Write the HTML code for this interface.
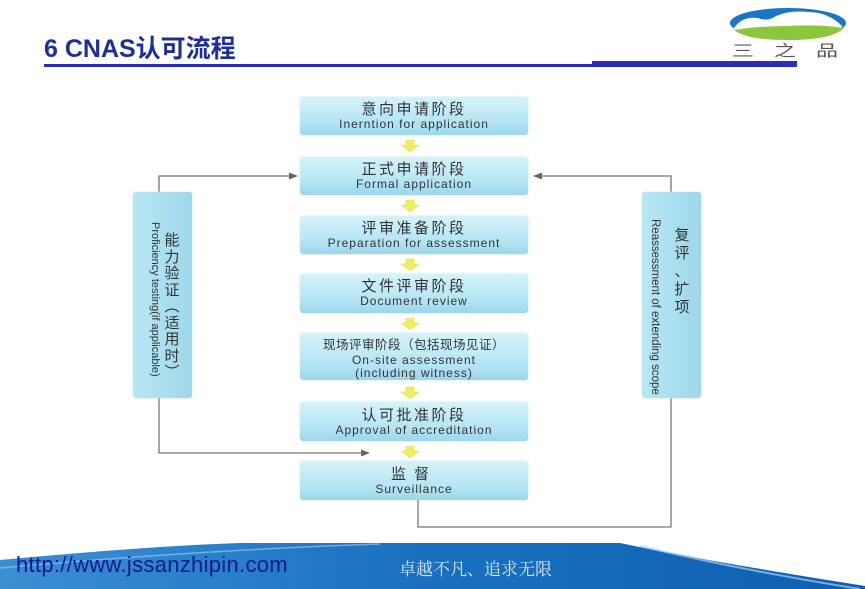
<!DOCTYPE html>
<html><head><meta charset="utf-8"><style>
body{margin:0;width:865px;height:589px;overflow:hidden;background:#fff;font-family:"Liberation Sans","Noto Sans CJK SC",sans-serif;position:relative}
.b{position:absolute;left:300px;width:228px;border-radius:3px;background:linear-gradient(#d6f3fb,#b2e4f3 70%,#9ad6ea);box-shadow:0 0 2px #bfe3ee;text-align:center;color:#333}
.b .c{font-size:15px;line-height:17px;letter-spacing:2.5px}
.b .e{font-size:12px;line-height:13px;letter-spacing:1px}
.s{position:absolute;width:59px;top:192px;height:206px;border-radius:3px;background:linear-gradient(90deg,#b8e7f4,#9ed8ea);box-shadow:0 0 2px #bfe3ee}
</style></head><body>
<div style="position:absolute;left:44px;top:29px;font-size:25px;font-weight:bold;color:#1c2f9a;font-family:'Liberation Sans','Noto Sans CJK SC',sans-serif">6 CNAS认可流程</div>
<div style="position:absolute;left:44px;top:64px;width:548px;height:3px;background:#2a2ec0"></div>
<div style="position:absolute;left:592px;top:61px;width:205px;height:6px;background:#2a2ec0"></div>
<svg style="position:absolute;left:728px;top:4px" width="125" height="56">
<ellipse cx="60" cy="19" rx="58" ry="15" fill="#1976c4"/>
<path d="M6,24 Q14,12 30,14 Q40,18 48,12 Q62,6 80,8 Q100,8 114,22 L114,30 L6,30Z" fill="#fff"/>
<path d="M6,26 Q30,22 60,22 Q90,20 116,24 Q104,36 60,36 Q18,36 6,26Z" fill="#8cc63f"/>
<g font-size="22" fill="#555" font-family="Noto Sans CJK SC,sans-serif" transform="translate(0,52) scale(1,0.7)">
<text x="4" y="0">三</text><text x="46" y="0">之</text><text x="88" y="0">品</text></g>
</svg>

<div class="b" style="top:97px;height:38px"><div class="c" style="margin-top:4px">意向申请阶段</div><div class="e">Inerntion for application</div></div>
<div class="b" style="top:157px;height:38px"><div class="c" style="margin-top:4px">正式申请阶段</div><div class="e">Formal application</div></div>
<div class="b" style="top:216px;height:38px"><div class="c" style="margin-top:4px">评审准备阶段</div><div class="e">Preparation for assessment</div></div>
<div class="b" style="top:274px;height:39px"><div class="c" style="margin-top:4px">文件评审阶段</div><div class="e">Document review</div></div>
<div class="b" style="top:333px;height:47px"><div class="c" style="margin-top:4px;font-size:12.5px;letter-spacing:0.5px">现场评审阶段（包括现场见证）</div><div class="e">On-site assessment</div><div class="e">(including witness)</div></div>
<div class="b" style="top:402px;height:39px"><div class="c" style="margin-top:5px">认可批准阶段</div><div class="e">Approval of accreditation</div></div>
<div class="b" style="top:461px;height:39px"><div class="c" style="margin-top:5px;letter-spacing:8px">监督</div><div class="e">Surveillance</div></div>

<svg style="position:absolute;left:0;top:0" width="865" height="589">
<g fill="#f0ee60" stroke="#e3d640" stroke-width="0.5">
<path d="M406,140h8v5h5l-9,7-9,-7h5z"/>
<path d="M406,200h8v5h5l-9,7-9,-7h5z"/>
<path d="M406,259h8v5h5l-9,7-9,-7h5z"/>
<path d="M406,318h8v5h5l-9,7-9,-7h5z"/>
<path d="M406,387h8v5h5l-9,7-9,-7h5z"/>
<path d="M406,446h8v5h5l-9,7-9,-7h5z"/>
</g>
<g stroke="#777" stroke-width="1.3" fill="none">
<path d="M159,192V176H290"/>
<path d="M159,398V453H362"/>
<path d="M671,192V176H542"/>
<path d="M418,500V527H671V398"/>
</g>
<g fill="#666">
<path d="M298,176l-9,-3.5v7z"/>
<path d="M370,453l-9,-3.5v7z"/>
<path d="M533,176l9,-3.5v7z"/>
</g>
</svg>

<div class="s" style="left:133px"></div>
<div style="position:absolute;left:163px;top:232px;width:18px;font-size:15px;line-height:16.5px;color:#333;text-align:center;font-family:'Noto Sans CJK SC',sans-serif">能<br>力<br>验<br>证<br>︵<br>适<br>用<br>时<br>︶</div>
<div style="position:absolute;left:147px;top:222px;transform-origin:0 0;transform:translate(14px,0) rotate(90deg);white-space:nowrap;font-size:11px;color:#333">Proficiency testing(if applicable)</div>

<div class="s" style="left:642px"></div>
<div style="position:absolute;left:673px;top:226px;width:18px;font-size:15px;line-height:18px;color:#333;text-align:center;font-family:'Noto Sans CJK SC',sans-serif">复<br>评<br><span style="line-height:12px">、</span><br>扩<br>项</div>
<div style="position:absolute;left:647px;top:219px;transform-origin:0 0;transform:translate(14px,0) rotate(90deg);white-space:nowrap;font-size:11.5px;color:#333">Reassessment of extending scope</div>

<svg style="position:absolute;left:0;top:540px" width="865" height="49">
<defs><linearGradient id="g" x1="0" x2="1"><stop offset="0" stop-color="#3a8fd2"/><stop offset="0.5" stop-color="#1a70c0"/><stop offset="1" stop-color="#0e5fb0"/></linearGradient></defs>
<path d="M0,20 Q150,6 240,3 H620 Q700,20 865,46 V49 H0Z" fill="url(#g)"/>
<path d="M0,28 Q200,10 380,4" stroke="#8cc8ef" stroke-width="1.5" fill="none" opacity="0.7"/>
<path d="M640,6 Q740,30 860,49" stroke="#9ed2f2" stroke-width="2" fill="none" opacity="0.7"/>
</svg>
<div style="position:absolute;left:16px;top:552px;font-size:22px;letter-spacing:0.3px;color:#101890">http://www.jssanzhipin.com</div>
<div style="position:absolute;left:399px;top:555px;font-size:17px;color:#d8e8f5;font-family:'Noto Serif CJK SC',serif">卓越不凡、追求无限</div>
</body></html>
